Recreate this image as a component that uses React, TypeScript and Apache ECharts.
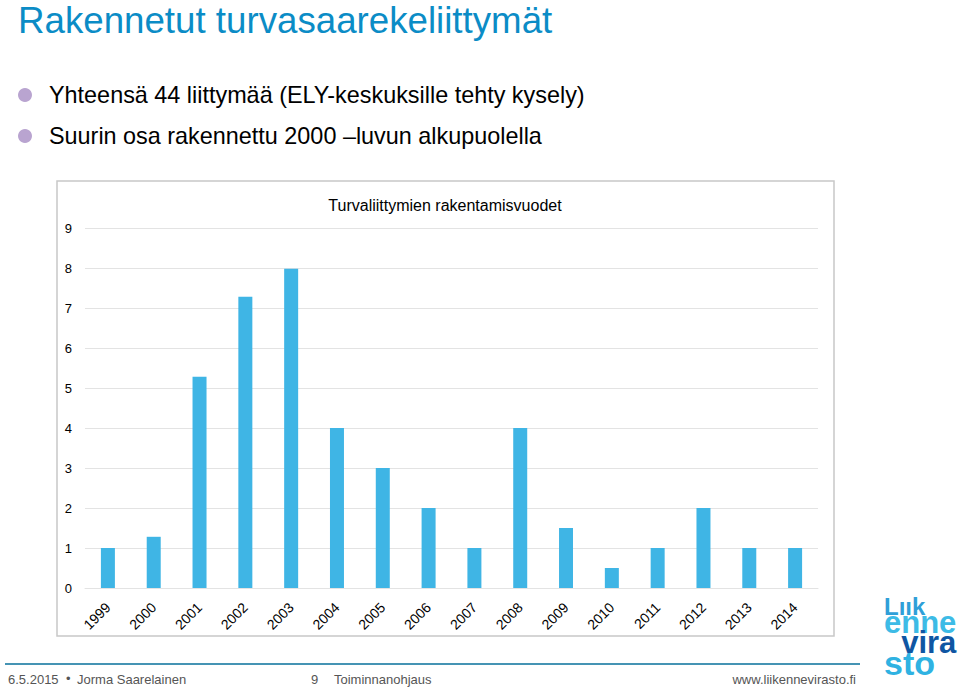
import React, { useEffect, useRef } from "react";
import * as echarts from "echarts";

const years = ["1999","2000","2001","2002","2003","2004","2005","2006","2007","2008","2009","2010","2011","2012","2013","2014"];
const counts = [1, 1.28, 5.28, 7.28, 7.98, 4, 3, 2, 1, 4, 1.5, 0.5, 1, 2, 1, 1];
const yTicks = [0, 1, 2, 3, 4, 5, 6, 7, 8, 9];

const slideTitle = "Rakennetut turvasaarekeliittymät";
const bullets = ["Yhteensä 44 liittymää (ELY-keskuksille tehty kysely)", "Suurin osa rakennettu 2000 –luvun alkupuolella"];
const chartTitle = "Turvaliittymien rakentamisvuodet";
const footerLeft = ["6.5.2015", "•", "Jorma Saarelainen"];
const footerMid = ["9", "Toiminnanohjaus"];
const footerUrl = "www.liikennevirasto.fi";
const logoWords = ["Lıık", "enne", "vira", "sto"];

const FONT = "'Liberation Sans', Arial, sans-serif";

export default function App() {
  const ref = useRef<HTMLDivElement>(null);
  useEffect(() => {
    if (!ref.current) return;
    const chart = echarts.init(ref.current, undefined, { renderer: "svg" });
    const footStyle = (text: string, align = "left") => ({
      text, font: `13px ${FONT}`, fill: "#555", align, verticalAlign: "middle",
    });
    const logoKeys = ["a", "b", "c", "d"];
    const logoRich = {
      a: { fontFamily: FONT, fontWeight: "bold", fontSize: 24, lineHeight: 16, fill: "#2f9fd8" },
      b: { fontFamily: FONT, fontWeight: "bold", fontSize: 31, lineHeight: 16.6, fill: "#3dbbe6" },
      c: { fontFamily: FONT, fontWeight: "bold", fontSize: 31, lineHeight: 23.4, fill: "#0f56a3", align: "right" },
      d: { fontFamily: FONT, fontWeight: "bold", fontSize: 34, lineHeight: 18.4, fill: "#2fb2e2" },
    };
    const logoText = logoWords.map((w, i) => `{${logoKeys[i]}|${w}}`).join("\n");
    chart.setOption({
      animation: false,
      backgroundColor: "#ffffff",
      textStyle: { fontFamily: FONT },
      title: {
        text: chartTitle,
        left: 440,
        top: 192,
        textAlign: "center",
        textStyle: { fontFamily: FONT, fontSize: 16, fontWeight: "normal", color: "#000" },
      },
      grid: { left: 85, right: 142, top: 228, bottom: 100 },
      xAxis: {
        type: "category",
        data: years,
        axisLine: { show: true, lineStyle: { color: "#e3e3e3" } },
        axisTick: { show: false },
        axisLabel: { rotate: 45, fontSize: 14, color: "#000", margin: 17, fontFamily: FONT, interval: 0 },
      },
      yAxis: {
        type: "value",
        min: 0,
        max: 9,
        interval: 1,
        axisLine: { show: false },
        axisTick: { show: false },
        splitLine: { lineStyle: { color: "#e3e3e3" } },
        axisLabel: {
          fontSize: 13, color: "#000", margin: 13, fontFamily: FONT,
          formatter: (v: number) => (yTicks.includes(v) ? String(v) : ""),
        },
      },
      series: [
        {
          type: "bar",
          data: counts,
          barWidth: 14,
          itemStyle: { color: "#3fb5e5" },
        },
      ],
      graphic: [
        { type: "rect", shape: { x: 57, y: 181, width: 777, height: 455 }, style: { fill: "none", stroke: "#c8c8c8", lineWidth: 1.5 }, z: -1 },
        { type: "text", x: 18, y: 20, style: { text: slideTitle, font: `36.7px ${FONT}`, fill: "#0b8cc6", verticalAlign: "middle" } },
        { type: "circle", shape: { cx: 25, cy: 95, r: 7 }, style: { fill: "#b9a4d0" } },
        { type: "text", x: 49, y: 95, style: { text: bullets[0], font: `23.4px ${FONT}`, fill: "#000", verticalAlign: "middle" } },
        { type: "circle", shape: { cx: 25, cy: 136, r: 7 }, style: { fill: "#b9a4d0" } },
        { type: "text", x: 49, y: 136, style: { text: bullets[1], font: `23.4px ${FONT}`, fill: "#000", verticalAlign: "middle" } },
        { type: "line", shape: { x1: 5, y1: 664, x2: 860, y2: 664 }, style: { stroke: "#4594b4", lineWidth: 2 } },
        { type: "text", x: 8, y: 679, style: footStyle(footerLeft[0]) },
        { type: "text", x: 66, y: 678, style: footStyle(footerLeft[1]) },
        { type: "text", x: 77, y: 679, style: footStyle(footerLeft[2]) },
        { type: "text", x: 311, y: 679, style: footStyle(footerMid[0]) },
        { type: "text", x: 334, y: 679, style: footStyle(footerMid[1]) },
        { type: "text", x: 856, y: 679, style: footStyle(footerUrl, "right") },
        { type: "text", x: 884, y: 598, style: { text: logoText, rich: logoRich, align: "left", verticalAlign: "top" } },
      ],
    });
    return () => chart.dispose();
  }, []);
  return <div ref={ref} style={{ position: "fixed", left: 0, top: 0, width: 960, height: 688 }} />;
}
